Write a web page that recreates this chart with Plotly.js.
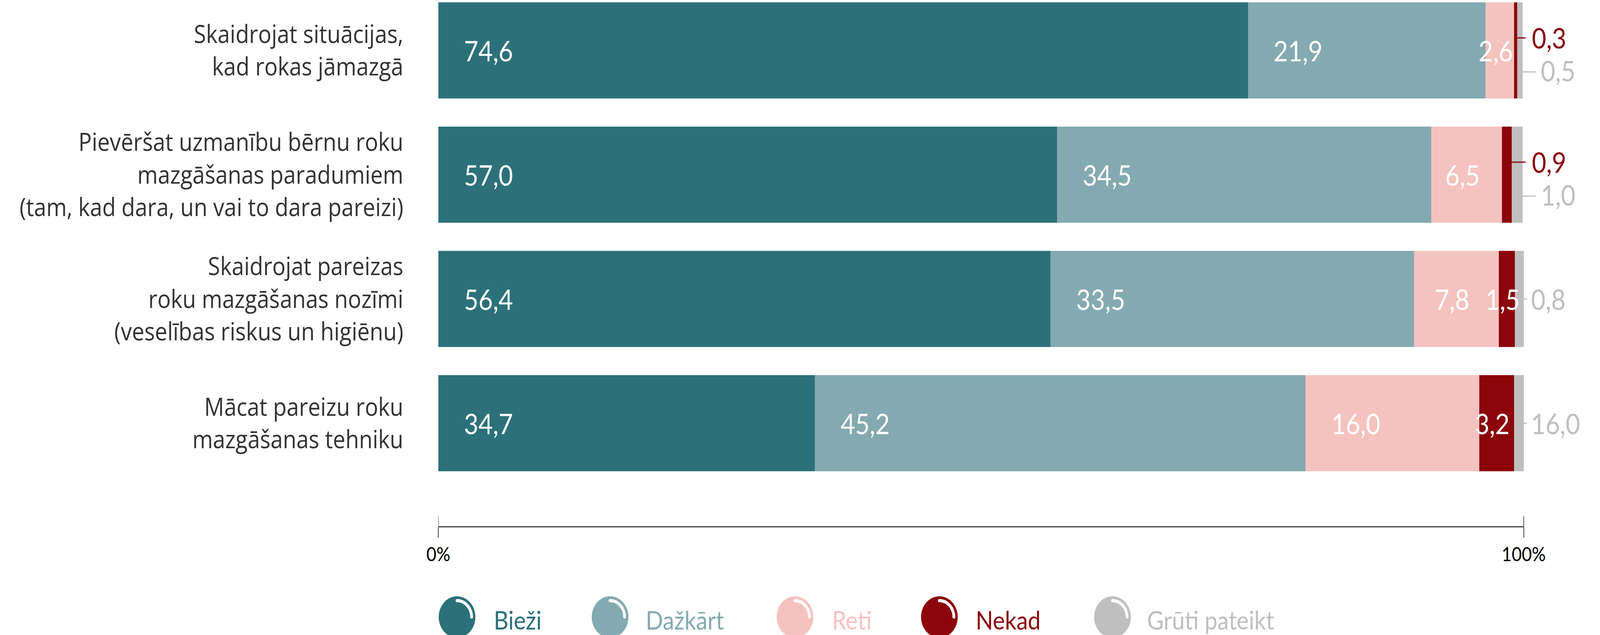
<!DOCTYPE html>
<html><head><meta charset="utf-8">
<script src="https://cdn.plot.ly/plotly-3.0.1.min.js"></script>
<style>html,body{margin:0;padding:0;background:#fff;overflow:hidden}#chart{width:4621px;height:1625px;transform-origin:0 0}</style>
</head><body><div id="chart"></div>
<script>
// ---------- DATA ----------
const categories = [
  "Skaidrojat situācijas,<br>kad rokas jāmazgā",
  "Pievēršat uzmanību bērnu roku<br>mazgāšanas paradumiem<br>(tam, kad dara, un vai to dara pareizi)",
  "Skaidrojat pareizas<br>roku mazgāšanas nozīmi<br>(veselības riskus un higiēnu)",
  "Mācat pareizu roku<br>mazgāšanas tehniku"
];
const seriesNames = ["Bieži", "Dažkārt", "Reti", "Nekad", "Grūti pateikt"];
const biezi   = [74.6, 57.0, 56.4, 34.7];
const dazkart = [21.9, 34.5, 33.5, 45.2];
const reti    = [2.6, 6.5, 7.8, 16.0];
const nekad   = [0.3, 0.9, 1.5, 3.2];
const gruti   = [0.5, 1.0, 0.8, 0.9];
const grutiLabels = ["0,5", "1,0", "0,8", "16,0"];
const xTickVals = [0, 100];
const xTickText = ["0%", "100%"];

// ---------- STYLE ----------
const colors = ["#2c717a", "#83aab0", "#f5c3bf", "#8b050b", "#bfbfbf"];
const FONT = "Lato, 'Open Sans', sans-serif";
const LABEL_FONT = "'Open Sans', Lato, sans-serif";
const W = 4621, H = 1625, ML = 1266, MR = 95, MT = 0, MB = 277;
const plotW = W - ML - MR, plotH = H - MT - MB;
const PX_PER_CAT = 318;
const xRange = [0, 104];
const yRange = [3.833, -0.406];
const fmt = v => v.toFixed(1).replace('.', ',');
const paperX = px => (px - ML) / plotW;
const paperY = py => (H - MB - py) / plotH;

// fit the fixed-size chart into the actual window
(function fit() {
  const el = document.getElementById('chart');
  const sx = (window.innerWidth || W) / W, sy = (window.innerHeight || H) / H;
  el.style.transform = `scale(${sx}, ${sy})`;
})();

const series = [biezi, dazkart, reti, nekad, gruti];

const traces = series.map((vals, i) => ({
  type: 'bar', orientation: 'h',
  name: seriesNames[i],
  x: vals, y: categories,
  width: 0.774,
  marker: {color: colors[i], line: {width: 0}},
  hoverinfo: 'skip', showlegend: false
}));

const annotations = [];
const shapes = [];

categories.forEach((cat, j) => {
  let start = 0;
  for (let i = 0; i < 4; i++) {
    const v = series[i][j];
    const inside = (i < 3) || v >= 1.2;
    if (inside) {
      if (v >= 10) {
        annotations.push({x: start, y: j, xref: 'x', yref: 'y', xanchor: 'left', yanchor: 'middle',
          xshift: 72, text: fmt(v), showarrow: false, font: {family: FONT, size: 72, color: '#ffffff'}});
      } else {
        annotations.push({x: start + v / 2, y: j, xref: 'x', yref: 'y', xanchor: 'center', yanchor: 'middle',
          xshift: -12, text: fmt(v), showarrow: false, font: {family: FONT, size: 72, color: '#ffffff'}});
      }
    } else {
      const end = start + v;
      shapes.push({type: 'line', xref: 'x', yref: 'y', x0: end, x1: 100.19,
        y0: j - 32 / PX_PER_CAT, y1: j - 32 / PX_PER_CAT, line: {color: colors[3], width: 3}});
      annotations.push({x: 100, y: j, xref: 'x', yref: 'y', xanchor: 'left', yanchor: 'middle',
        xshift: 21, yshift: 33, text: fmt(v), showarrow: false, font: {family: FONT, size: 72, color: colors[3]}});
    }
    start += v;
  }
  const total = start + gruti[j];
  const redOutside = nekad[j] < 1.2;
  if (redOutside) {
    shapes.push({type: 'line', xref: 'x', yref: 'y', x0: total, x1: 101.12,
      y0: j + 55 / PX_PER_CAT, y1: j + 55 / PX_PER_CAT, line: {color: colors[4], width: 3}});
    annotations.push({x: 100, y: j, xref: 'x', yref: 'y', xanchor: 'left', yanchor: 'middle',
      xshift: 47, yshift: -51, text: grutiLabels[j], showarrow: false, font: {family: FONT, size: 72, color: colors[4]}});
  } else {
    shapes.push({type: 'line', xref: 'x', yref: 'y', x0: total, x1: 100.3,
      y0: j, y1: j, line: {color: colors[4], width: 3}});
    annotations.push({x: 100, y: j, xref: 'x', yref: 'y', xanchor: 'left', yanchor: 'middle',
      xshift: 19, yshift: 0, text: grutiLabels[j], showarrow: false, font: {family: FONT, size: 72, color: colors[4]}});
  }
});

// axis line and upper tick halves
shapes.push({type: 'line', xref: 'x', yref: 'paper', x0: xTickVals[0], x1: xTickVals[1], y0: 0, y1: 0,
  line: {color: '#3a3a3a', width: 3}});
xTickVals.forEach(v => shapes.push({type: 'line', xref: 'x', yref: 'paper', x0: v, x1: v, y0: 0, y1: 27 / plotH,
  line: {color: '#444444', width: 2}}));

// legend
const legendCircleX = [1320, 1762, 2296, 2713, 3213];
const legendTextX = [1424, 1863, 2401, 2816, 3311];
const legendCY = 1579, legendTY = 1585, R = 53, r = 42, k = 0.5523;
seriesNames.forEach((name, i) => {
  const ax = paperX(legendCircleX[i]), ay = paperY(legendCY);
  shapes.push({type: 'circle', xref: 'paper', yref: 'paper', xsizemode: 'pixel', ysizemode: 'pixel',
    xanchor: ax, yanchor: ay, x0: -R, x1: R, y0: -R, y1: R, fillcolor: colors[i], line: {width: 0}});
  shapes.push({type: 'path', xref: 'paper', yref: 'paper', xsizemode: 'pixel', ysizemode: 'pixel',
    xanchor: ax, yanchor: ay,
    path: `M 0,${r} C ${k*r},${r} ${r},${k*r} ${r},0`, line: {color: '#ffffff', width: 8}});
  [[0, r], [r, 0]].forEach(p => shapes.push({type: 'circle', xref: 'paper', yref: 'paper', xsizemode: 'pixel', ysizemode: 'pixel',
    xanchor: ax, yanchor: ay, x0: p[0] - 4, x1: p[0] + 4, y0: p[1] - 4, y1: p[1] + 4, fillcolor: '#ffffff', line: {width: 0}}));
  annotations.push({xref: 'paper', yref: 'paper', x: paperX(legendTextX[i]), y: paperY(legendTY),
    xanchor: 'left', yanchor: 'middle', text: name, showarrow: false, font: {family: FONT, size: 66, color: colors[i]}});
});

const layout = {
  width: W, height: H,
  margin: {l: ML, r: MR, t: MT, b: MB, pad: 0},
  paper_bgcolor: '#ffffff', plot_bgcolor: '#ffffff',
  barmode: 'stack', showlegend: false,
  font: {family: FONT},
  xaxis: {range: xRange, tickvals: xTickVals, ticktext: xTickText, ticks: 'outside', ticklen: 27, tickwidth: 2,
    tickcolor: '#444444', showline: false, showgrid: false, zeroline: false,
    tickfont: {family: FONT, size: 50, color: '#000000'}, fixedrange: true},
  yaxis: {type: 'category', categoryorder: 'array', categoryarray: categories, range: yRange,
    ticks: '', ticklabelstandoff: 100, showline: false, showgrid: false, zeroline: false,
    tickfont: {family: LABEL_FONT, size: 64, color: '#333333'}, fixedrange: true},
  shapes: shapes,
  annotations: annotations
};

Plotly.newPlot('chart', traces, layout, {staticPlot: true, displayModeBar: false});
</script>
</body></html>
